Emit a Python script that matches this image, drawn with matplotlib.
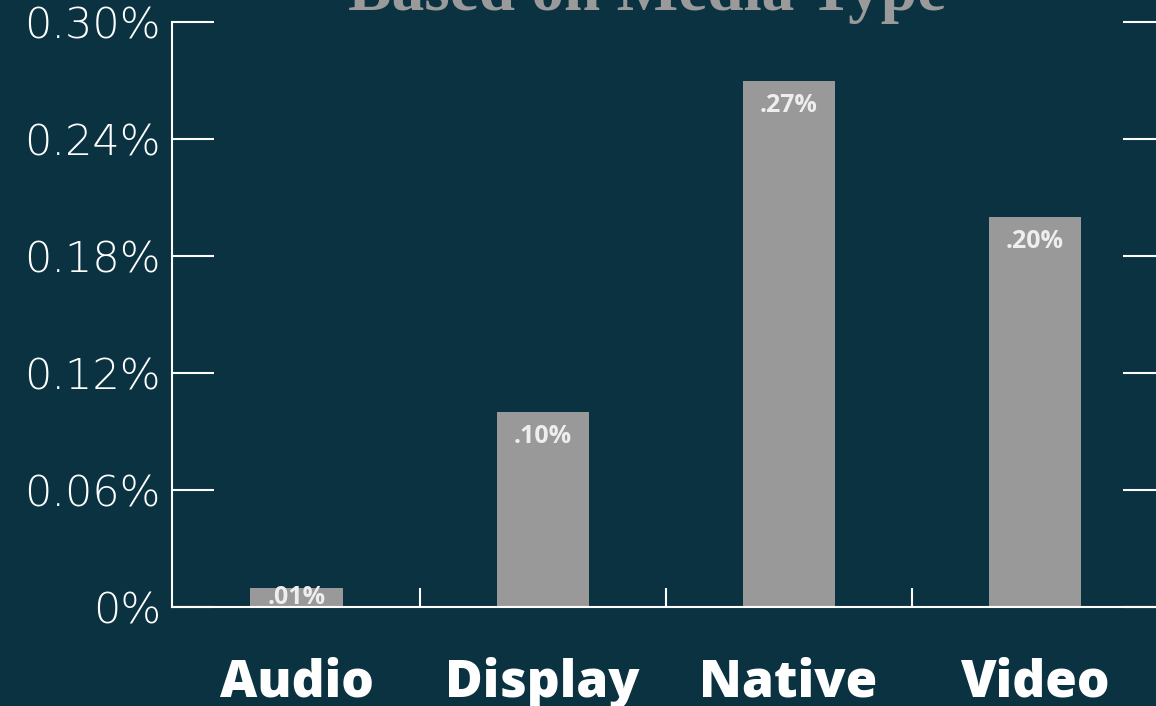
import matplotlib
matplotlib.use("Agg")
import matplotlib.pyplot as plt
from matplotlib.ticker import FixedLocator

# engagement rate per media type (percent)
media_types = ["Audio", "Display", "Native", "Video"]
rates = [0.01, 0.10, 0.27, 0.20]
y_ticks = [0, 0.06, 0.12, 0.18, 0.24, 0.30]

BG = "#0a3241"
BAR = "#999999"
WHITE = "#ffffff"


def main():
    fig = plt.figure(figsize=(11.56, 7.06), dpi=100, facecolor=BG)
    ax = fig.add_axes([0.1488, 0.1402, 0.8590, 0.8286], facecolor=BG)

    x = list(range(len(media_types)))
    ax.bar(x, rates, width=0.374, color=BAR, zorder=2)

    # value labels sit just inside the top of each bar
    for i, v in enumerate(rates):
        ax.text(i, max(v - 0.0128, v / 2), f"{v:.2f}%".lstrip("0"),
                ha="center", va="center", color="#eeeeee",
                fontsize=18, fontweight="bold", family="Open Sans", zorder=3)

    ax.set_xlim(-0.506, 3.53)
    ax.set_ylim(0, 0.30)

    ax.set_yticks(y_ticks)
    ax.set_yticklabels(["0%" if t == 0 else f"{t:.2f}%" for t in y_ticks],
                       family="DejaVu Sans", fontweight="light", fontsize=31, color=WHITE)
    ax.tick_params(axis="y", direction="in", length=30, width=1.5, color=WHITE,
                   pad=8, left=True, right=True)

    ax.set_xticks(x)
    ax.set_xticklabels(media_types, family="Open Sans", fontweight="heavy",
                       fontsize=37, color=WHITE)
    ax.tick_params(axis="x", which="major", length=0, pad=36)
    ax.xaxis.set_minor_locator(FixedLocator([0.5, 1.5, 2.5]))
    ax.tick_params(axis="x", which="minor", direction="in", length=14, width=1.5, color=WHITE)

    for side in ["left", "right", "bottom"]:
        ax.spines[side].set_color(WHITE)
        ax.spines[side].set_linewidth(1.5)
    ax.spines["top"].set_visible(False)
    ax.spines["right"].set_visible(False)

    fig.text(0.5597, 0.986, "Based on Media Type", ha="center", va="baseline",
             family="Liberation Serif", fontweight="bold", fontsize=47, color="#9a9a9a")

    fig.savefig("out.png", dpi=100, facecolor=BG)


if __name__ == "__main__":
    main()
